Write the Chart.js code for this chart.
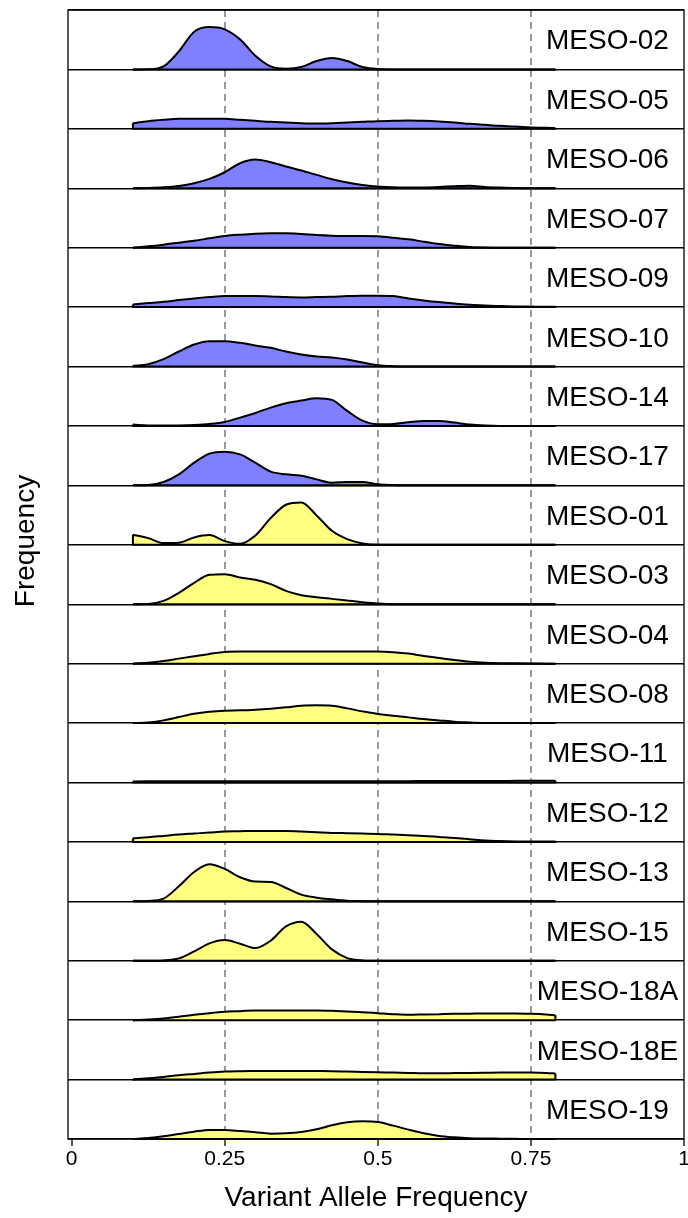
<!DOCTYPE html>
<html>
<head>
<meta charset="utf-8">
<title>Variant allele frequency by sample</title>
<script src="https://cdn.jsdelivr.net/npm/chart.js@4.4.0/dist/chart.umd.min.js"></script>
<style>
  html, body { margin: 0; padding: 0; background: #fff; }
  #wrap { position: relative; width: 688px; height: 1218px; }
</style>
</head>
<body>
<div id="wrap"><canvas id="vaf"></canvas></div>
<script>
// VAF positions where each density curve was evaluated
const vafGrid = [0.1, 0.125, 0.15, 0.175, 0.2, 0.225, 0.25, 0.275, 0.3, 0.325, 0.35, 0.375,
  0.4, 0.425, 0.45, 0.475, 0.5, 0.525, 0.55, 0.575, 0.6, 0.625, 0.65, 0.675, 0.7, 0.725,
  0.75, 0.775, 0.79];

// strips, top to bottom
const samples = ['MESO-02', 'MESO-05', 'MESO-06', 'MESO-07', 'MESO-09', 'MESO-10', 'MESO-14', 'MESO-17',
  'MESO-01', 'MESO-03', 'MESO-04', 'MESO-08', 'MESO-11', 'MESO-12', 'MESO-13', 'MESO-15',
  'MESO-18A', 'MESO-18E', 'MESO-19'];
const sampleGroup = ['A', 'A', 'A', 'A', 'A', 'A', 'A', 'A',
  'B', 'B', 'B', 'B', 'B', 'B', 'B', 'B', 'B', 'B', 'B'];

// relative density per sample (arbitrary units, strip height = 178)
const meso02 = [0, 0.5, 9, 54, 113, 127, 120, 90, 41, 9, 2, 7, 25, 34, 25, 7, 1, 0, 0, 0, 0, 0, 0, 0, 0, 0, 0, 0, 0];
const meso05 = [17, 23, 27, 30, 30, 30, 30, 27, 24, 21, 19, 17, 16, 17, 19, 21, 23, 24, 25, 24, 22, 19, 15, 12, 9, 7, 4, 3, 2];
const meso06 = [0, 1, 3, 7, 15, 28, 48, 75, 86, 78, 65, 53, 40, 27, 17, 10, 5, 3, 2, 2.5, 4, 6, 7.5, 4, 2, 0.5, 0, 0, 0];
const meso07 = [0, 4, 9, 15, 21, 28, 35, 39, 42, 43, 43, 41, 38, 36, 35, 35, 34, 30, 25, 18, 11, 6, 2, 0.5, 0, 0, 0, 0, 0];
const meso09 = [8, 12, 16, 21, 26, 30, 33, 33, 33, 32, 30, 29, 30, 31, 33, 34, 34, 33, 26, 20, 15, 11, 7, 5, 3, 2, 1.5, 1, 1];
const meso10 = [2, 7, 22, 45, 66, 76, 76, 71, 63, 56, 45, 36, 30, 27, 21, 12, 4, 1, 0, 0, 0, 0, 0, 0, 0, 0, 0, 0, 0];
const meso14 = [4, 1.5, 1, 1.5, 3, 6, 12, 25, 39, 55, 68, 76, 83, 78, 45, 16, 5, 6, 11, 15, 15, 10, 4, 1, 0, 0, 0, 0, 0];
const meso17 = [0, 1, 10, 33, 68, 95, 101, 93, 68, 41, 33, 29, 18, 8, 10, 10, 3, 1, 0, 0, 0, 0, 0, 0, 0, 0, 0, 0, 0];
const meso01 = [30, 20, 5, 6, 22, 29, 11, 3, 28, 80, 120, 127, 88, 42, 17, 4, 0, 0, 0, 0, 0, 0, 0, 0, 0, 0, 0, 0, 0];
const meso03 = [0, 1, 10, 34, 64, 88, 90, 80, 73, 60, 40, 27, 21, 16, 11, 6, 2, 0, 0, 0, 0, 0, 0, 0, 0, 0, 0, 0, 0];
const meso04 = [0, 3, 8, 15, 22, 29, 35, 36, 36, 36, 36, 36, 36, 36, 36, 36, 36, 34, 30, 23, 17, 11, 6, 3, 1.5, 1, 0.5, 0, 0];
const meso08 = [0, 2, 8, 18, 28, 34, 37, 38, 40, 43, 47, 52, 53, 52, 44, 35, 27, 22, 17, 12, 8, 4, 2, 0.5, 0, 0, 0, 0, 0];
const meso11 = [3, 3.5, 4, 4, 4, 4, 4, 4, 4, 4, 4, 4, 4, 4, 4, 4, 4, 4, 4, 4.5, 4.5, 4.5, 4.5, 4.5, 4.5, 5, 5, 5, 5];
const meso12 = [11, 14, 18, 22, 25, 28, 31, 32, 33, 33, 33, 31, 29, 27, 26, 25, 24, 22, 20, 18, 15, 12, 8, 4, 2.5, 1.5, 1, 1, 1];
const meso13 = [0, 1, 8, 45, 88, 111, 97, 72, 59, 58, 40, 20, 11, 6, 2, 0.5, 0, 0, 0, 0, 0, 0, 0, 0, 0, 0, 0, 0, 0];
const meso15 = [0, 0, 1, 7, 28, 52, 62, 51, 38, 60, 103, 117, 80, 34, 8, 1, 0, 0, 0, 0, 0, 0, 0, 0, 0, 0, 0, 0, 0];
const meso18A = [0, 2, 5, 10, 16, 21, 25, 27, 29, 29, 29, 29, 29, 28, 26, 24, 21, 18, 16, 17, 18, 19, 19.5, 20, 20, 20, 19, 17, 15];
const meso18E = [0.5, 4, 8, 13, 17, 21, 24, 25, 25.5, 26, 26, 26, 25.5, 25, 24, 23, 22, 21, 20, 19, 19, 19.5, 20, 20.5, 21, 21, 21, 20, 18];
const meso19 = [0, 3, 8, 15, 22, 27, 27, 24, 20, 16, 17, 21, 29, 41, 50, 53, 51, 40, 28, 17, 9, 5, 2.5, 1.5, 1, 0.5, 0, 0, 0];

const densities = [meso02, meso05, meso06, meso07, meso09, meso10, meso14, meso17,
  meso01, meso03, meso04, meso08, meso11, meso12, meso13, meso15, meso18A, meso18E, meso19];

const xTicks = [0, 0.25, 0.5, 0.75, 1];
const xTickLabels = ['0', '0.25', '0.5', '0.75', '1'];

const stripMax = 178;
const labelAt = 0.875;           // x value the strip names are centred on
const groupFill = { A: 'rgb(128,128,255)', B: 'rgb(255,255,128)' };
const FONT = "'Liberation Sans', Arial, Helvetica, sans-serif";

Chart.defaults.font.family = FONT;
Chart.defaults.color = '#000';

const nStrips = samples.length;
const stripBase = i => (nStrips - 1 - i) * stripMax;

const datasets = samples.map((name, i) => {
  const base = stripBase(i);
  return {
    label: name,
    data: vafGrid.map((x, k) => ({ x, y: base + densities[i][k] })),
    fill: { value: base },
    backgroundColor: groupFill[sampleGroup[i]],
    borderColor: '#000',
    borderWidth: 2,
    pointRadius: 0,
    cubicInterpolationMode: 'monotone',
    _base: base
  };
});

// closes each ridge: vertical ends + baseline, like a filled polygon outline
const ridgeOutline = {
  id: 'ridgeOutline',
  afterDatasetsDraw(chart) {
    const { ctx, scales: { y } } = chart;
    ctx.save();
    ctx.strokeStyle = '#000';
    ctx.lineWidth = 2;
    ctx.lineJoin = 'round';
    chart.data.datasets.forEach((ds, i) => {
      const pts = chart.getDatasetMeta(i).data;
      const first = pts[0], last = pts[pts.length - 1];
      const yb = y.getPixelForValue(ds._base);
      ctx.beginPath();
      ctx.moveTo(first.x, first.y);
      ctx.lineTo(first.x, yb);
      ctx.lineTo(last.x, yb);
      ctx.lineTo(last.x, last.y);
      ctx.stroke();
    });
    ctx.restore();
  }
};

// panel frame, strip names and the y title
const stripText = {
  id: 'stripText',
  afterDraw(chart) {
    const { ctx, chartArea: a, scales: { x, y } } = chart;
    ctx.save();
    ctx.strokeStyle = '#000';
    ctx.lineWidth = 1.3;
    ctx.strokeRect(a.left, a.top, a.right - a.left, a.bottom - a.top);

    ctx.fillStyle = '#000';
    ctx.font = '28px ' + FONT;
    ctx.textAlign = 'center';
    ctx.textBaseline = 'middle';
    const lx = x.getPixelForValue(labelAt);
    samples.forEach((name, i) => {
      const cy = y.getPixelForValue(stripBase(i) + stripMax / 2);
      ctx.fillText(name, lx, cy + 2);
    });

    ctx.translate(26, 541);
    ctx.rotate(-Math.PI / 2);
    ctx.fillText('Frequency', 0, 0);
    ctx.restore();
  }
};

new Chart(document.getElementById('vaf'), {
  type: 'line',
  data: { datasets },
  plugins: [ridgeOutline, stripText],
  options: {
    responsive: true,
    maintainAspectRatio: false,
    animation: false,
    devicePixelRatio: 1,
    layout: { padding: { top: 10, right: 4, left: 0, bottom: 0 } },
    plugins: { legend: { display: false }, tooltip: { enabled: false } },
    scales: {
      x: {
        type: 'linear',
        position: 'bottom',
        min: -0.006,
        max: 1,
        z: 1,
        afterBuildTicks: s => { s.ticks = xTicks.map(v => ({ value: v })); },
        afterFit: s => { s.height = 79; s.paddingRight = 0; s.paddingLeft = 0; },
        ticks: {
          callback: (v, i) => xTickLabels[i],
          font: { size: 21 },
          color: '#000',
          padding: 1,
          maxRotation: 0,
          autoSkip: false
        },
        grid: {
          color: c => (c.tick && (c.tick.value === 0 || c.tick.value === 1)) ? 'rgba(0,0,0,0)' : 'rgba(120,120,120,0.75)',
          lineWidth: 2,
          tickColor: '#000',
          tickWidth: 1.3,
          tickLength: 7,
          tickBorderDash: []
        },
        border: { display: false, dash: [7, 5] },
        title: {
          display: true,
          text: 'Variant Allele Frequency',
          font: { size: 28 },
          color: '#000',
          padding: { top: 0, bottom: 3 }
        }
      },
      y: {
        type: 'linear',
        min: 0,
        max: nStrips * stripMax,
        afterBuildTicks: s => {
          s.ticks = Array.from({ length: nStrips + 1 }, (_, k) => ({ value: k * stripMax }));
        },
        afterFit: s => { s.width = 68; },
        ticks: { display: false },
        grid: { color: '#000', lineWidth: 1.4, drawTicks: false },
        border: { display: false }
      }
    }
  }
});
</script>
</body>
</html>
